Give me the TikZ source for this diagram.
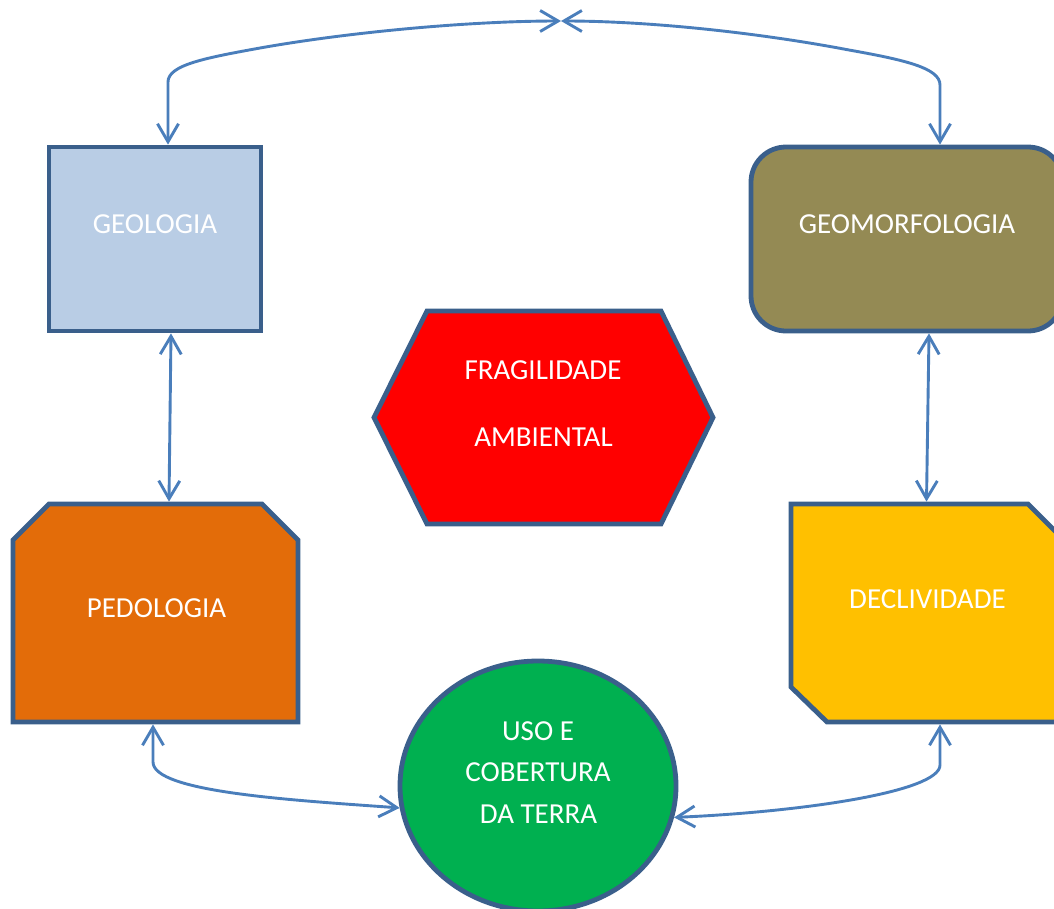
\documentclass[tikz,border=0pt]{standalone}
\usepackage{fontspec}
\setmainfont{Carlito}
\usetikzlibrary{arrows.meta,shapes.geometric}
\definecolor{bord}{HTML}{3A5F8B}
\definecolor{conncol}{HTML}{4A7EBB}
\definecolor{geofill}{HTML}{B9CDE5}
\definecolor{geomfill}{HTML}{948A54}
\definecolor{pedfill}{HTML}{E36C09}
\definecolor{declfill}{HTML}{FFC000}
\definecolor{fragfill}{HTML}{FF0000}
\definecolor{usofill}{HTML}{00B050}
\begin{document}
\begin{tikzpicture}[x=1pt,y=-1pt,
  shapebox/.style={draw=bord,line width=4.8pt,inner sep=0pt},
  polyshape/.style={draw=bord,line width=4.8pt},
  area/.style={inner sep=0pt,outer sep=2.4pt},
  lbl/.style={text=white,font=\fontsize{29}{35}\selectfont,inner sep=0pt},
  conn/.style={draw=conncol,line width=2.9pt,{Straight Barb[length=18pt,width=21pt]}-{Straight Barb[length=18pt,width=21pt]}}]
\useasboundingbox (0,0) rectangle (1054,908);
% shapes
\node[shapebox,fill=geofill,minimum width=212pt,minimum height=184pt] (geo) at (155,239) {};
\node[shapebox,fill=geomfill,rounded corners=35pt,minimum width=312pt,minimum height=184pt] (geom) at (907,239) {};
\node[area,minimum width=285pt,minimum height=218pt] (ped) at (155.5,613) {};
\path[polyshape,fill=pedfill] (13,540) -- (49,504) -- (262,504) -- (298,540) -- (298,722) -- (13,722) -- cycle;
\node[area,minimum width=273pt,minimum height=218pt] (decl) at (927.5,613) {};
\path[polyshape,fill=declfill] (791,504) -- (1028,504) -- (1064,540) -- (1064,722) -- (827,722) -- (791,687) -- cycle;
\node[area,minimum width=340pt,minimum height=213pt] (frag) at (543.5,417.5) {};
\path[polyshape,fill=fragfill] (374,417.5) -- (427,311) -- (661,311) -- (713,417.5) -- (661,524) -- (427,524) -- cycle;
\node[shapebox,ellipse,fill=usofill,minimum width=276pt,minimum height=250pt] (uso) at (538,786) {};
% labels
\node[lbl] (geoT) at (155,224.5) {GEOLOGIA};
\node[lbl] (geomT) at (907,224.5) {GEOMORFOLOGIA};
\node[lbl] (fragA) at (543,370) {FRAGILIDADE};
\node[lbl] (fragB) at (543.5,437.5) {AMBIENTAL};
\node[lbl] (pedT) at (156.5,608) {PEDOLOGIA};
\node[lbl] (declT) at (927.5,599) {DECLIVIDADE};
\node[lbl] (usoA) at (538,731) {USO E};
\node[lbl] (usoB) at (538,772.5) {COBERTURA};
\node[lbl] (usoC) at (538.5,814) {DA TERRA};
% connectors
\coordinate (top) at (561,21);
\draw[conn] ([xshift=13pt]geo.north) -- (168,82) .. controls (168,65) and (205,58) .. (260,48) .. controls (350,32) and (470,21) .. (top);
\draw[conn] ([xshift=33pt]geom.north) -- (940,85) .. controls (940,68) and (905,60) .. (849,50) .. controls (760,33) and (650,21) .. (top);
\draw[conn] ([xshift=16pt]geo.south) -- ([xshift=13.5pt]ped.north);
\draw[conn] ([xshift=22pt]geom.south) -- ([xshift=-1pt]decl.north);
\draw[conn] ([xshift=-2.5pt]ped.south) -- (153,762) .. controls (153,792) and (290,800) .. (uso.189);
\draw[conn] ([xshift=12.5pt]decl.south) -- (940,765) .. controls (940,792) and (800,812) .. (uso.347);
\end{tikzpicture}
\end{document}
